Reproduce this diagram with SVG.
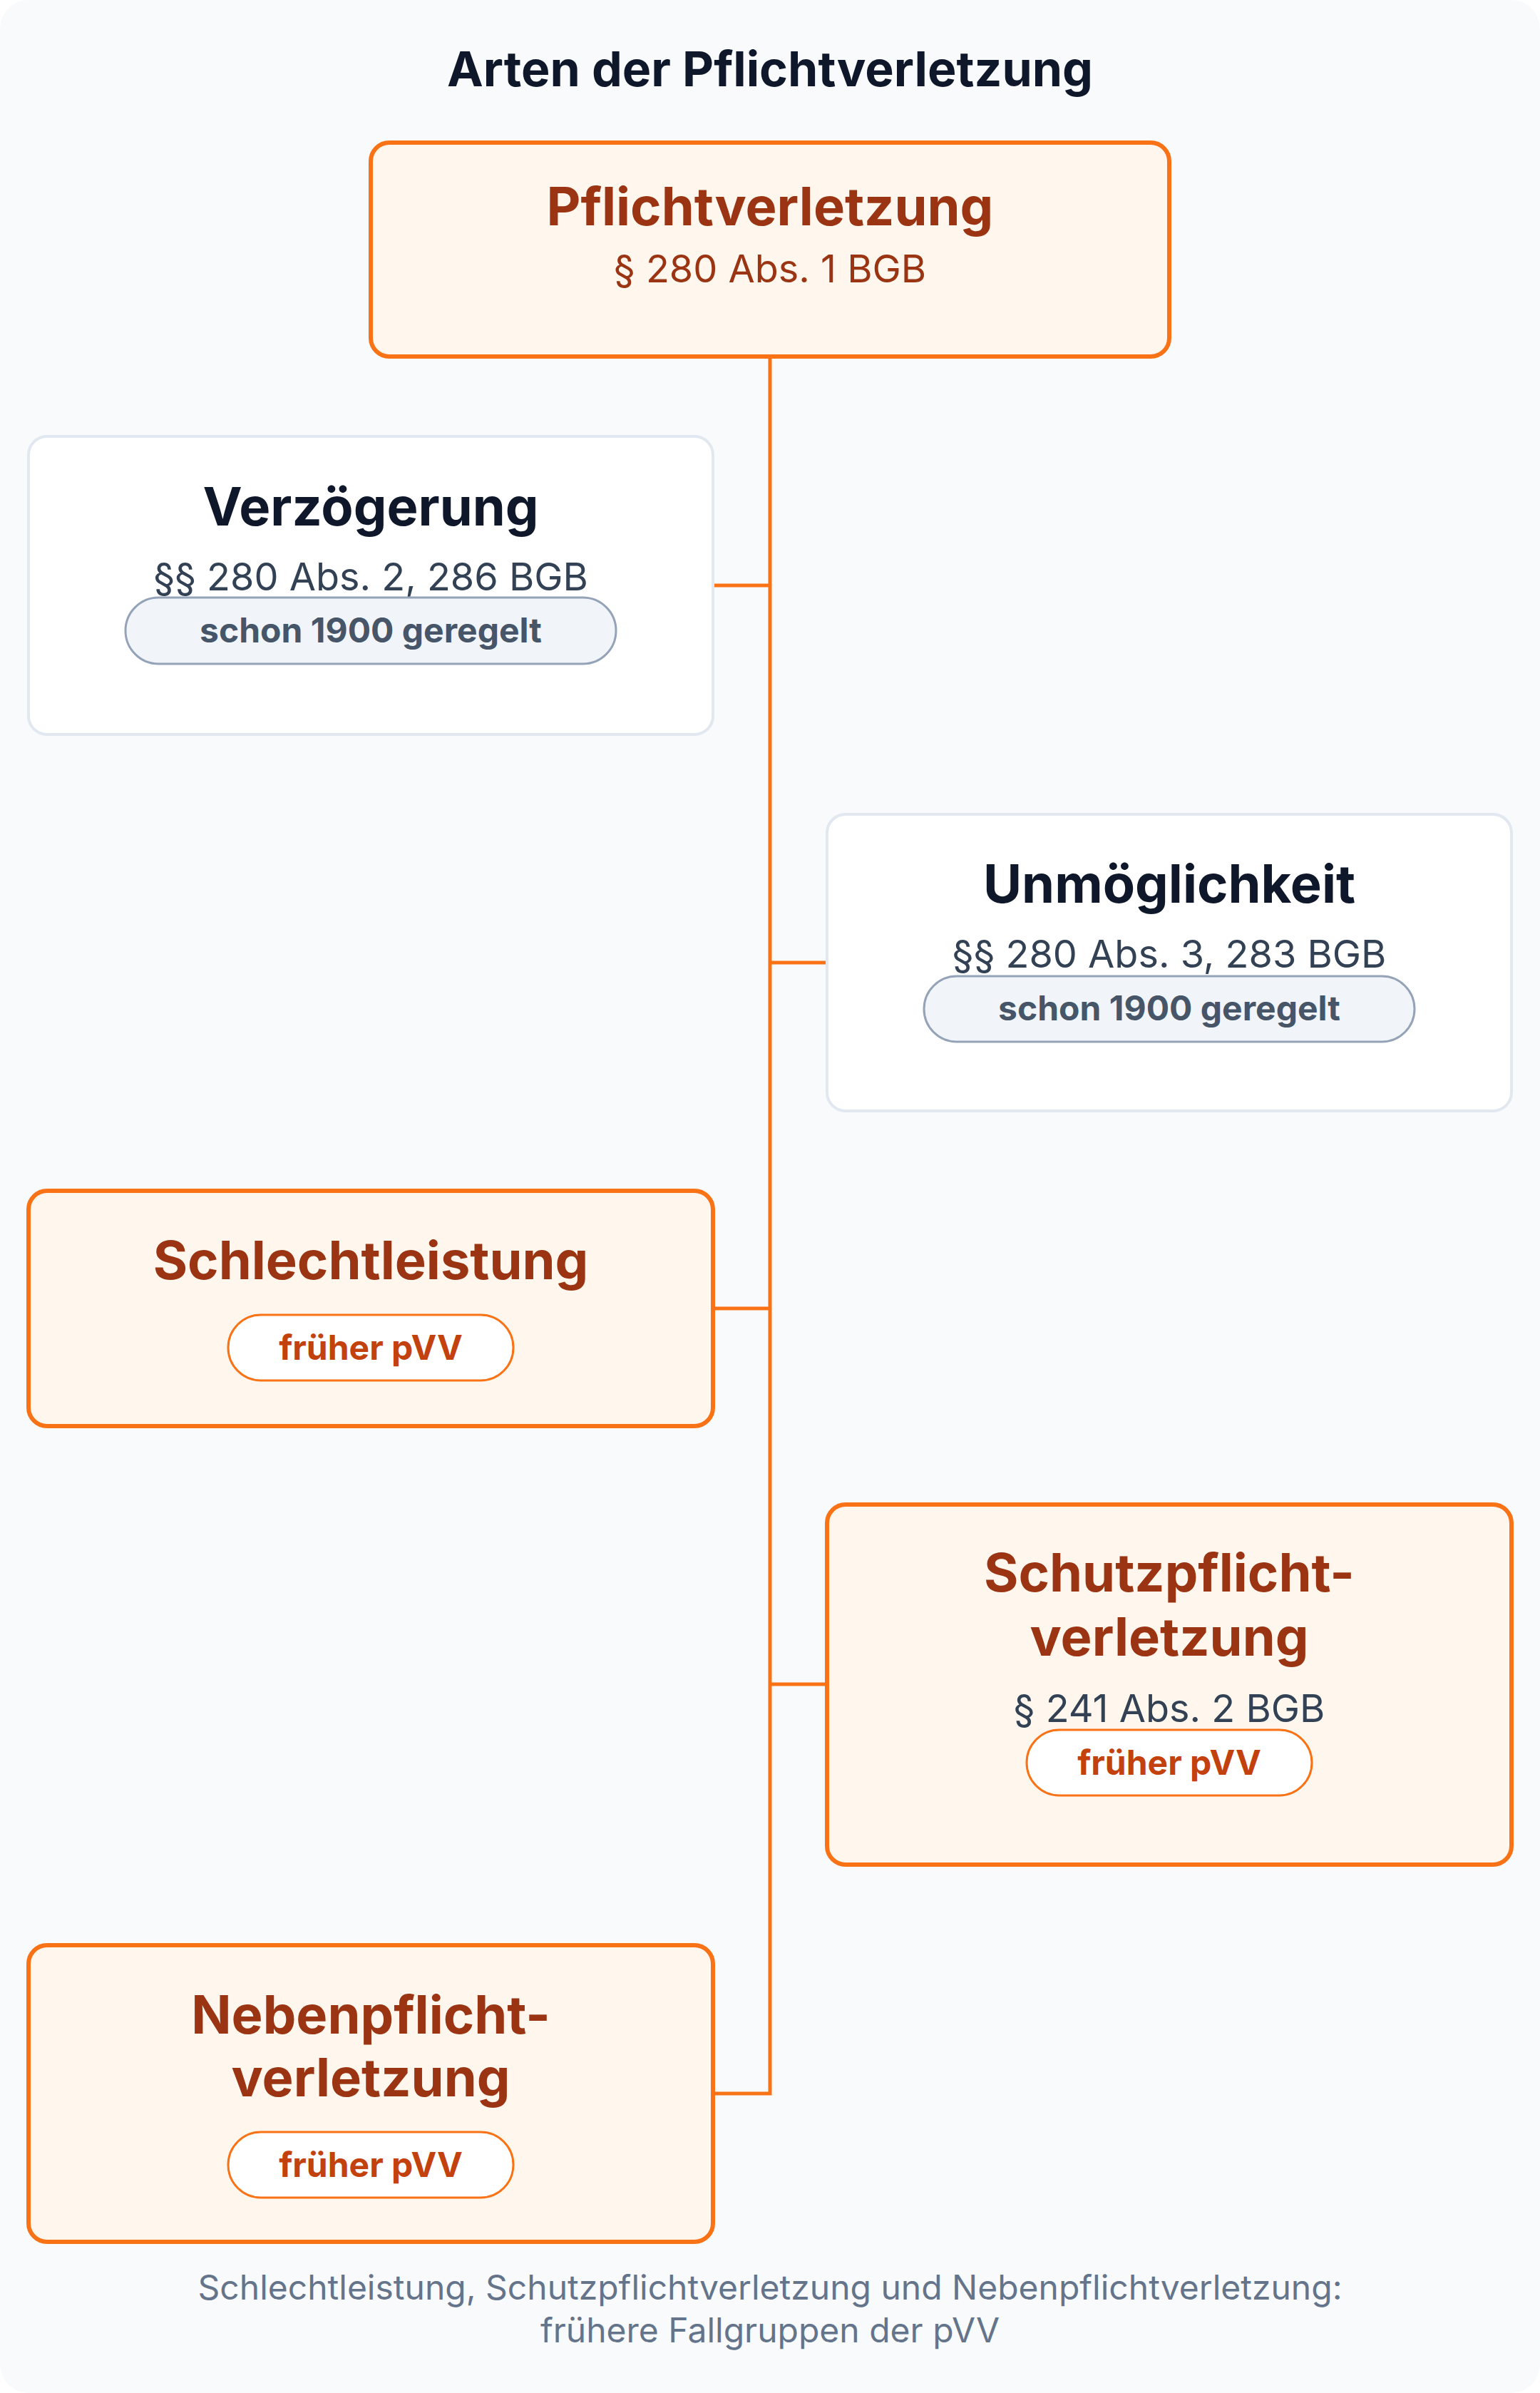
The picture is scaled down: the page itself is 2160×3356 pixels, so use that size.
<svg xmlns="http://www.w3.org/2000/svg" width="2160" height="3356" viewBox="0 0 2160 3356">
<style>
.bg{fill:#f8fafc}
.hot{fill:#fff7ed;stroke:#f97316;stroke-width:6}
.cold{fill:#ffffff;stroke:#e2e8f0;stroke-width:4}
.pillG{fill:#f1f5f9;stroke:#94a3b8;stroke-width:3}
.pillO{fill:#ffffff;stroke:#f97316;stroke-width:3}
.conn{fill:none;stroke:#f97316;stroke-width:5}
text{font-family:Inter,"Liberation Sans",sans-serif;text-anchor:middle}
.title{font-size:68px;font-weight:700;fill:#0f172a}
.hT{font-size:74px;font-weight:700;fill:#9a3412}
.cT{font-size:74px;font-weight:700;fill:#0f172a}
.hS{font-size:54px;font-weight:400;fill:#9a3412}
.cS{font-size:54px;font-weight:400;fill:#334155}
.pG{font-size:48px;font-weight:700;fill:#475569}
.pO{font-size:48px;font-weight:700;fill:#c2410c}
.foot{font-size:48px;font-weight:400;fill:#64748b}
</style>
<rect class="bg" x="0" y="0" width="2160" height="3356" rx="40"/>
<text class="title" x="1080" y="121">Arten der Pflichtverletzung</text>
<g id="connectors">
<path class="conn" d="M1080 500 V2936 H1000"/>
<path class="conn" d="M1080 821 H1000"/>
<path class="conn" d="M1080 1350 H1160"/>
<path class="conn" d="M1080 1835 H1000"/>
<path class="conn" d="M1080 2362 H1160"/>
</g>
<g id="pflichtverletzung">
<rect class="hot" x="520" y="200" width="1120" height="300" rx="26"/>
<text class="hT" x="1080" y="316">Pflichtverletzung</text>
<text class="hS" x="1080" y="396">§ 280 Abs. 1 BGB</text>
</g>
<g id="verzoegerung">
<rect class="cold" x="40" y="612" width="960" height="418" rx="26"/>
<text class="cT" x="520" y="737">Verzögerung</text>
<text class="cS" x="520" y="828">§§ 280 Abs. 2, 286 BGB</text>
<rect class="pillG" x="176" y="838" width="688" height="93" rx="46.5"/>
<text class="pG" x="520" y="901">schon 1900 geregelt</text>
</g>
<g id="unmoeglichkeit">
<rect class="cold" x="1160" y="1142" width="960" height="416" rx="26"/>
<text class="cT" x="1640" y="1266">Unmöglichkeit</text>
<text class="cS" x="1640" y="1357">§§ 280 Abs. 3, 283 BGB</text>
<rect class="pillG" x="1296" y="1369" width="688" height="92" rx="46"/>
<text class="pG" x="1640" y="1431">schon 1900 geregelt</text>
</g>
<g id="schlechtleistung">
<rect class="hot" x="40" y="1670" width="960" height="330" rx="26"/>
<text class="hT" x="520" y="1794">Schlechtleistung</text>
<rect class="pillO" x="320" y="1844" width="400" height="92" rx="46"/>
<text class="pO" x="520" y="1907">früher pVV</text>
</g>
<g id="schutzpflichtverletzung">
<rect class="hot" x="1160" y="2110" width="960" height="505" rx="26"/>
<text class="hT" x="1640" y="2232">Schutzpflicht-</text>
<text class="hT" x="1640" y="2322">verletzung</text>
<text class="cS" x="1640" y="2415">§ 241 Abs. 2 BGB</text>
<rect class="pillO" x="1440" y="2426" width="400" height="92" rx="46"/>
<text class="pO" x="1640" y="2489">früher pVV</text>
</g>
<g id="nebenpflichtverletzung">
<rect class="hot" x="40" y="2728" width="960" height="416" rx="26"/>
<text class="hT" x="520" y="2852">Nebenpflicht-</text>
<text class="hT" x="520" y="2940">verletzung</text>
<rect class="pillO" x="320" y="2990" width="400" height="92" rx="46"/>
<text class="pO" x="520" y="3053">früher pVV</text>
</g>
<text class="foot" x="1080" y="3225">Schlechtleistung, Schutzpflichtverletzung und Nebenpflichtverletzung:</text>
<text class="foot" x="1080" y="3285">frühere Fallgruppen der pVV</text>
</svg>
